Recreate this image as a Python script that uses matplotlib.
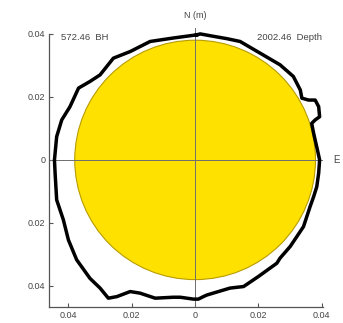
import numpy as np
import matplotlib
matplotlib.use("Agg")
import matplotlib.pyplot as plt
from matplotlib.patches import Circle
from matplotlib.ticker import FuncFormatter

plt.rcParams["font.family"] = ["Liberation Sans", "DejaVu Sans"]

# caliper outline of the borehole wall (m), traced clockwise from north
outline_x = [0.0005, 0.0016, 0.0060, 0.0100, 0.0142, 0.0205, 0.0268, 0.0310,
             0.0332, 0.0337, 0.0358, 0.0379, 0.0390, 0.0393, 0.0379, 0.0368,
             0.0374, 0.0386, 0.0393, 0.0390, 0.0384, 0.0374, 0.0363, 0.0342,
             0.0300, 0.0268, 0.0258, 0.0200, 0.0153, 0.0110, 0.0037, 0.0026,
             0.0010, -0.0005, -0.0047, -0.0069, -0.0126, -0.0174, -0.0205,
             -0.0247, -0.0274, -0.0300, -0.0332, -0.0374, -0.0400, -0.0416,
             -0.0437, -0.0442, -0.0444, -0.0437, -0.0421, -0.0395, -0.0368,
             -0.0332, -0.0300, -0.0258, -0.0205, -0.0142, -0.0069, 0.0005]
outline_y = [0.0397, 0.0400, 0.0392, 0.0385, 0.0376, 0.0339, 0.0302, 0.0265,
             0.0222, 0.0196, 0.0190, 0.0190, 0.0169, 0.0137, 0.0127, 0.0116,
             0.0085, 0.0032, 0.0000, -0.0042, -0.0085, -0.0117, -0.0148, -0.0212,
             -0.0275, -0.0312, -0.0328, -0.0370, -0.0402, -0.0407, -0.0429, -0.0434,
             -0.0442, -0.0442, -0.0436, -0.0436, -0.0439, -0.0423, -0.0418,
             -0.0434, -0.0439, -0.0407, -0.0376, -0.0317, -0.0254, -0.0190,
             -0.0127, -0.0042, 0.0000, 0.0074, 0.0127, 0.0169, 0.0228,
             0.0249, 0.0270, 0.0323, 0.0344, 0.0376, 0.0387, 0.0397]

bit_radius = 0.038
ticks = [-0.04, -0.02, 0, 0.02, 0.04]
bh_label = "572.46  BH"
depth_label = "2002.46  Depth"

fig = plt.figure(figsize=(3.43, 3.23), dpi=100)
ax = fig.add_axes([0.144, 0.0505, 0.798, 0.864])
ax.set_xlim(-0.046, 0.0404)
ax.set_ylim(-0.0466, 0.042)

# nominal bit size
ax.add_patch(Circle((0, 0), bit_radius, facecolor="#ffe100",
                    edgecolor="#b89c00", lw=0.8, zorder=1))
ax.axhline(0, color="#6e6e6e", lw=0.7, zorder=2)
ax.axvline(0, color="#6e6e6e", lw=0.7, zorder=2)
ax.plot(outline_x, outline_y, color="black", lw=2.5,
        solid_joinstyle="round", zorder=3)

for s in ["top", "right"]:
    ax.spines[s].set_visible(False)
ax.spines["left"].set_color("#555555")
ax.spines["bottom"].set_color("#555555")
ax.spines["left"].set_bounds(-0.0466, 0.04)
ax.spines["left"].set_linewidth(0.9)
ax.spines["bottom"].set_linewidth(0.9)

ax.set_xticks(ticks)
ax.set_yticks(ticks)
fmt = FuncFormatter(lambda v, p: "0" if abs(v) < 1e-9 else f"{abs(v):.2f}")
ax.xaxis.set_major_formatter(fmt)
ax.yaxis.set_major_formatter(fmt)
ax.tick_params(direction="in", length=3, width=0.8, labelsize=6.5,
               colors="#555555", labelcolor="#444444", pad=3)

ax.text(-0.0422, 0.0390, bh_label, fontsize=6.8, color="#444444", va="center")
ax.text(0.0400, 0.0390, depth_label, fontsize=6.8, color="#444444",
        va="center", ha="right")
fig.text(195 / 343, 1 - 15 / 323, "N (m)", fontsize=6.5, color="#444444",
         ha="center", va="center")
fig.text(337 / 343, 1 - 160 / 323, "E", fontsize=7, color="#444444",
         ha="center", va="center")

fig.savefig("out.png", dpi=100)
